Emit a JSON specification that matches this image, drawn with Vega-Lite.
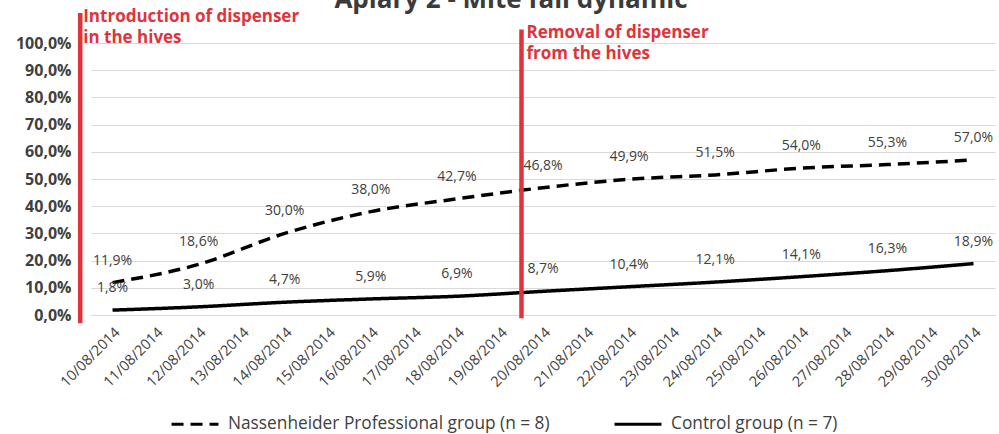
{
  "$schema": "https://vega.github.io/schema/vega-lite/v6.json",
  "autosize": "none",
  "width": 904,
  "height": 272,
  "padding": {"left": 91, "top": 43, "right": 4, "bottom": 119},
  "background": "white",
  "config": {
    "locale": {"number": {"decimal": ",", "thousands": ".", "grouping": [3], "currency": ["", " €"]}},
    "view": {"stroke": null},
    "font": "Open Sans"
  },
  "title": {"text": "Apiary 2 - Mite fall dynamic", "fontSize": 26, "fontWeight": "bold", "color": "#3b3b3b", "anchor": "middle", "dx": -32, "dy": 9},
  "datasets": {
    "series": [
      {"date": "2014-08-10T00:00:00", "group": "Nassenheider Professional group (n = 8)", "value": 0.119},
      {"date": "2014-08-12T00:00:00", "group": "Nassenheider Professional group (n = 8)", "value": 0.186},
      {"date": "2014-08-14T00:00:00", "group": "Nassenheider Professional group (n = 8)", "value": 0.300},
      {"date": "2014-08-16T00:00:00", "group": "Nassenheider Professional group (n = 8)", "value": 0.380},
      {"date": "2014-08-18T00:00:00", "group": "Nassenheider Professional group (n = 8)", "value": 0.427},
      {"date": "2014-08-20T00:00:00", "group": "Nassenheider Professional group (n = 8)", "value": 0.468},
      {"date": "2014-08-22T00:00:00", "group": "Nassenheider Professional group (n = 8)", "value": 0.499},
      {"date": "2014-08-24T00:00:00", "group": "Nassenheider Professional group (n = 8)", "value": 0.515},
      {"date": "2014-08-26T00:00:00", "group": "Nassenheider Professional group (n = 8)", "value": 0.540},
      {"date": "2014-08-28T00:00:00", "group": "Nassenheider Professional group (n = 8)", "value": 0.553},
      {"date": "2014-08-30T00:00:00", "group": "Nassenheider Professional group (n = 8)", "value": 0.570},
      {"date": "2014-08-10T00:00:00", "group": "Control group (n = 7)", "value": 0.018},
      {"date": "2014-08-12T00:00:00", "group": "Control group (n = 7)", "value": 0.030},
      {"date": "2014-08-14T00:00:00", "group": "Control group (n = 7)", "value": 0.047},
      {"date": "2014-08-16T00:00:00", "group": "Control group (n = 7)", "value": 0.059},
      {"date": "2014-08-18T00:00:00", "group": "Control group (n = 7)", "value": 0.069},
      {"date": "2014-08-20T00:00:00", "group": "Control group (n = 7)", "value": 0.087},
      {"date": "2014-08-22T00:00:00", "group": "Control group (n = 7)", "value": 0.104},
      {"date": "2014-08-24T00:00:00", "group": "Control group (n = 7)", "value": 0.121},
      {"date": "2014-08-26T00:00:00", "group": "Control group (n = 7)", "value": 0.141},
      {"date": "2014-08-28T00:00:00", "group": "Control group (n = 7)", "value": 0.163},
      {"date": "2014-08-30T00:00:00", "group": "Control group (n = 7)", "value": 0.189}
    ]
  },
  "encoding": {
    "x": {
      "field": "date", "type": "temporal",
      "scale": {"domain": [{"year": 2014, "month": 8, "date": 9, "hours": 12}, {"year": 2014, "month": 8, "date": 30, "hours": 12}]},
      "axis": {"title": null, "format": "%d/%m/%Y", "labelAngle": -45, "tickCount": {"interval": "day", "step": 1}, "grid": false, "domainColor": "#d9d9d9", "ticks": false, "labelFontSize": 14.5, "labelColor": "#404040", "labelPadding": 10, "labelOverlap": false}
    }
  },
  "layer": [
    {
      "data": {"name": "series"},
      "mark": {"type": "line", "color": "black", "strokeWidth": 3.5, "interpolate": "monotone"},
      "encoding": {
        "y": {
          "field": "value", "type": "quantitative",
          "scale": {"domain": [0, 1]},
          "axis": {"title": null, "values": [0, 0.1, 0.2, 0.3, 0.4, 0.5, 0.6, 0.7, 0.8, 0.9, 1.0], "tickCount": 12, "format": ".1%", "gridColor": "#d9d9d9", "domain": false, "ticks": false, "labelFontSize": 16, "labelFontWeight": "bold", "labelColor": "#404040", "labelPadding": 20, "labelOverlap": false}
        },
        "strokeDash": {
          "field": "group", "type": "nominal",
          "scale": {"domain": ["Nassenheider Professional group (n = 8)", "Control group (n = 7)"], "range": [[12, 7], [1, 0]]},
          "legend": {"title": null, "orient": "none", "legendX": 79, "legendY": 356, "direction": "horizontal", "symbolType": "stroke", "symbolSize": 2200, "symbolStrokeWidth": 3, "symbolStrokeColor": "black", "labelFontSize": 17.3, "labelColor": "#404040", "columnPadding": 58, "labelOffset": 8, "labelLimit": 400}
        }
      }
    },
    {
      "data": {"name": "series"},
      "mark": {"type": "text", "dy": -22, "fontSize": 14, "color": "#404040"},
      "encoding": {
        "y": {"field": "value", "type": "quantitative"},
        "text": {"field": "value", "type": "quantitative", "format": ".1%"}
      }
    },
    {
      "data": {"values": [{"date": "2014-08-09T06:00:00", "event": "Introduction of dispenser\nin the hives"}]},
      "mark": {"type": "rule", "color": "#e0343c", "strokeWidth": 4.5},
      "encoding": {
        "y": {"datum": 1.11},
        "y2": {"datum": -0.03}
      }
    },
    {
      "data": {"values": [{"date": "2014-08-09T06:00:00", "event": "Introduction of dispenser\nin the hives"}]},
      "mark": {"type": "text", "color": "#e0343c", "fontWeight": "bold", "fontSize": 17, "lineHeight": 21, "lineBreak": "\n", "align": "left", "baseline": "top", "dx": 3},
      "encoding": {
        "y": {"datum": 1.125},
        "text": {"field": "event"}
      }
    },
    {
      "data": {"values": [{"date": "2014-08-19T12:00:00", "event": "Removal of dispenser\nfrom the hives"}]},
      "mark": {"type": "rule", "color": "#e0343c", "strokeWidth": 4.5},
      "encoding": {
        "y": {"datum": 1.05},
        "y2": {"datum": -0.012}
      }
    },
    {
      "data": {"values": [{"date": "2014-08-19T12:00:00", "event": "Removal of dispenser\nfrom the hives"}]},
      "mark": {"type": "text", "color": "#e0343c", "fontWeight": "bold", "fontSize": 17, "lineHeight": 21, "lineBreak": "\n", "align": "left", "baseline": "top", "dx": 5},
      "encoding": {
        "y": {"datum": 1.065},
        "text": {"field": "event"}
      }
    }
  ]
}
